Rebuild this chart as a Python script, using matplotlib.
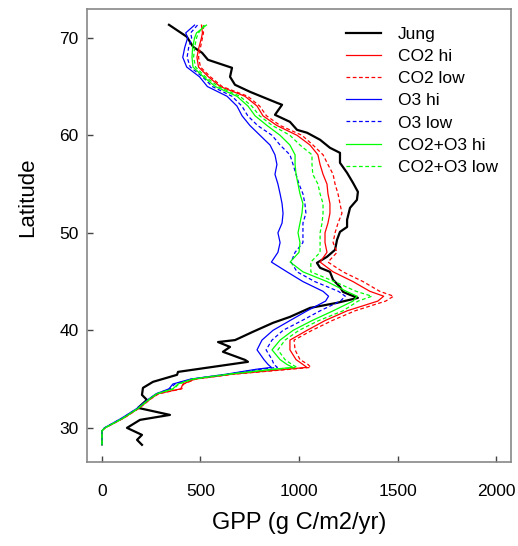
import numpy as np
import matplotlib.pyplot as plt

plt.rcParams['font.family'] = ['Liberation Sans', 'DejaVu Sans']

# Jung (observation-based) GPP by latitude
jung_lat = [71.33, 70.1, 69.08, 68.46, 67.74, 66.92, 66.0, 65.18, 64.46, 63.33,
            63.13, 62.1, 61.38, 60.56, 60.26, 59.54, 58.72, 58.2, 57.18, 56.15,
            55.13, 54.2, 53.38, 52.56, 51.33, 50.6, 50.1, 49.28, 48.26, 47.54,
            46.92, 46.41, 46.0, 45.18, 44.46, 43.95, 43.64, 43.33, 42.82, 42.3,
            41.38, 40.77, 39.85, 39.23, 39.0, 38.8, 38.3, 37.8, 36.97, 36.77,
            35.74, 35.44, 34.72, 34.1, 33.38, 32.87, 32.05, 31.33, 30.82, 30.0,
            29.28, 28.77, 28.26]
jung_gpp = [340, 431, 462, 508, 538, 660, 650, 675, 751, 888,
            914, 878, 954, 990, 1041, 1107, 1157, 1208, 1208, 1244,
            1274, 1299, 1294, 1259, 1244, 1244, 1208, 1193, 1183, 1142,
            1091, 1107, 1157, 1173, 1208, 1223, 1259, 1299, 1193, 1056,
            954, 868, 766, 700, 675, 589, 650, 614, 726, 741,
            386, 381, 259, 208, 203, 228, 183, 345, 193, 127,
            203, 178, 203]

# model runs on a common latitude grid
lat = [71.3, 70.5, 70, 69, 68, 67, 66, 65, 64, 63, 62, 61, 60, 59, 58, 57, 56,
       55, 54, 53, 52, 51, 50, 49, 48, 47, 46, 45, 44, 43.5, 43, 42, 41, 40,
       39, 38, 37, 36.5, 36.2, 36, 35.5, 35, 34.5, 34, 33.5, 33, 32, 31, 30,
       29.7, 28.25]
o3_hi = [470, 425, 435, 420, 410, 430, 495, 535, 635, 685, 711, 751, 802, 853,
         878, 888, 878, 893, 904, 914, 919, 914, 893, 904, 893, 860, 939, 1020,
         1122, 1150, 1135, 1041, 954, 868, 812, 787, 822, 843, 860, 780, 630,
         450, 360, 340, 275, 240, 178, 100, 12, 0, 0]
o3_low = [485, 450, 455, 440, 432, 448, 510, 560, 660, 710, 740, 790, 863, 904,
          954, 970, 985, 1000, 1020, 1030, 1035, 1020, 1020, 1020, 980, 960,
          990, 1080, 1200, 1235, 1210, 1107, 1015, 919, 863, 833, 863, 873,
          890, 800, 635, 455, 370, 345, 278, 242, 180, 103, 13, 0, 0]
co2o3_hi = [530, 480, 470, 460, 457, 462, 515, 575, 685, 741, 777, 838, 904,
            954, 980, 980, 985, 995, 1005, 1020, 1015, 1005, 995, 1005, 1000,
            955, 1020, 1142, 1240, 1295, 1274, 1173, 1066, 970, 904, 863, 904,
            939, 970, 860, 640, 460, 386, 360, 279, 244, 183, 107, 15, 0, 0]
co2o3_low = [520, 490, 480, 470, 465, 475, 525, 590, 700, 760, 800, 865, 954,
             1005, 1066, 1066, 1070, 1096, 1107, 1122, 1122, 1117, 1107, 1107,
             1107, 1060, 1060, 1180, 1290, 1370, 1300, 1223, 1100, 1000, 929,
             893, 929, 964, 990, 880, 645, 462, 390, 365, 280, 245, 184, 108,
             15, 0, 0]
co2_hi = [505, 510, 505, 492, 482, 490, 540, 600, 726, 787, 817, 888, 990, 1056,
          1096, 1107, 1122, 1142, 1147, 1157, 1157, 1147, 1132, 1132, 1142,
          1107, 1173, 1274, 1360, 1430, 1400, 1244, 1132, 1041, 954, 954, 985,
          1020, 1040, 930, 660, 472, 411, 400, 285, 248, 186, 110, 16, 0, 0]
co2_low = [515, 515, 510, 500, 490, 500, 550, 610, 740, 800, 835, 905, 1015,
           1071, 1122, 1147, 1173, 1183, 1198, 1208, 1218, 1198, 1183, 1173,
           1193, 1147, 1223, 1325, 1410, 1480, 1440, 1284, 1168, 1066, 975,
           980, 1005, 1046, 1060, 950, 665, 475, 415, 405, 288, 250, 188, 111,
           16, 0, 0]

fig = plt.figure(figsize=(5.18, 5.46), dpi=100)
ax = fig.add_axes([87 / 518, 1 - 462 / 546, 424 / 518, 453 / 546])

ax.plot(jung_gpp, jung_lat, color='black', lw=1.6, label='Jung')
ax.plot(co2_hi, lat, color='#ff0000', lw=0.9, label='CO2 hi')
ax.plot(co2_low, lat, color='#ff0000', lw=0.9, ls=(0, (3, 2)), label='CO2 low')
ax.plot(o3_hi, lat, color='#0000ff', lw=0.9, label='O3 hi')
ax.plot(o3_low, lat, color='#0000ff', lw=0.9, ls=(0, (3, 2)), label='O3 low')
ax.plot(co2o3_hi, lat, color='#00ff00', lw=0.9, label='CO2+O3 hi')
ax.plot(co2o3_low, lat, color='#00ff00', lw=0.9, ls=(0, (3, 2)), label='CO2+O3 low')

ax.set_xlim(-76, 2076)
ax.set_ylim(26.5, 72.95)
ax.set_xticks([0, 500, 1000, 1500, 2000])
ax.set_yticks([30, 40, 50, 60, 70])
ax.tick_params(direction='in', length=4, width=1, colors='#444444',
               labelcolor='black', labelsize=12.5)
ax.tick_params(axis='x', pad=16)
ax.tick_params(axis='y', pad=6)
for s in ax.spines.values():
    s.set_color('#888888')
    s.set_linewidth(1.2)

ax.set_xlabel('GPP (g C/m2/yr)', fontsize=17, labelpad=9)
ax.set_ylabel('Latitude', fontsize=16)
ax.yaxis.set_label_coords(-0.115, 0.585)

ax.legend(loc='upper left', bbox_to_anchor=(346 / 518, 1 - 27 / 546),
          bbox_transform=fig.transFigure, frameon=False, fontsize=12.5,
          handlelength=2.0, handletextpad=1.0, labelspacing=0.4,
          borderpad=0, borderaxespad=0)

fig.savefig('out.png', dpi=100)
